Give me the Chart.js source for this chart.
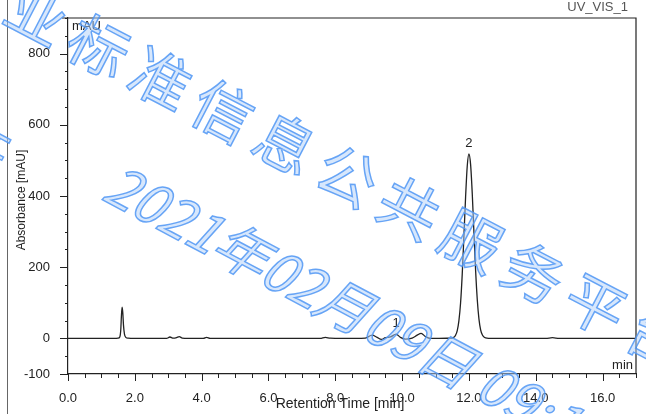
<!DOCTYPE html>
<html lang="en">
<head>
    <meta charset="UTF-8">
    <title>UV_VIS_1</title>
    <style>
        body { margin: 0; background: #fff; font-family: Arial, "Liberation Sans", sans-serif; }
        .wrap { position: relative; width: 646px; height: 414px; overflow: hidden; }
        .edge { position: absolute; left: 7px; top: 0; width: 1px; height: 414px; background: #666; }
        .wm { position: absolute; white-space: nowrap; transform-origin: 0 0; pointer-events: none;
              font-family: "Noto Sans CJK SC", sans-serif; font-weight: 400;
              color: rgba(175,208,250,0.5); -webkit-text-stroke: 1.5px rgba(80,150,245,0.85); }
    </style>
    <script src="https://cdn.jsdelivr.net/npm/chart.js"></script>
</head>
<body>
<div class="wrap">
    <canvas id="chart" width="646" height="414"></canvas>
    <div class="edge"></div>
    <div class="wm" style="left:-30px; top:-74px; font-size:60px; letter-spacing:10px; transform:rotate(27.5deg);">企业标准信息公共服务平台</div>
    <div class="wm" style="left:130px; top:142px; font-size:55px; font-style:italic; transform:rotate(28deg);">2021年02月09日 09:14</div>
    <div class="wm" style="left:-22px; top:100px; font-size:52px; transform:rotate(28deg);">开</div>
</div>
<script>
    // retention time (min) / absorbance (mAU)
    const times = [0.0, 0.5, 1.0, 1.4, 1.5, 1.55, 1.58, 1.6, 1.62, 1.64, 1.66, 1.69, 1.73, 1.8, 2.0, 2.5,
        2.95, 3.05, 3.15, 3.25, 3.33, 3.42, 3.6, 4.05, 4.15, 4.25, 5.0, 6.0, 7.0, 7.55, 7.7, 7.85, 8.2, 8.6,
        8.9, 9.1, 9.25, 9.38, 9.5, 9.65, 9.82, 9.95, 10.1, 10.3, 10.45, 10.57, 10.7, 10.85, 11.1, 11.4,
        11.5, 11.55, 11.6, 11.65, 11.7, 11.75, 11.8, 11.85, 11.9, 11.95, 12.0, 12.05, 12.1, 12.15, 12.2,
        12.25, 12.3, 12.35, 12.4, 12.45, 12.5, 12.6, 12.8, 13.5, 14.3, 14.5, 14.7, 15.5, 16.5, 17.0];
    const absorbance = [0, 0, 0, 0, 0.5, 4, 25, 65, 88, 72, 38, 12, 3, 0.5, 0, 0,
        0, 4, 0.5, 2, 5, 1, 0, 0, 3, 0, 0, 0, 0, 0, 3, 0.5, 0, 0,
        1, 9, 3, -3, 2, 4, 12, 3, -2, 1, 9, 14, 5, 0, 0, 0.5,
        1, 3, 9, 22, 50, 100, 182, 288, 398, 485, 518, 488, 405, 296, 190,
        108, 54, 24, 10, 4, 1.5, 0.3, 0, 0, 0, 2, 0, 0, 0, 0];

    const peakTimes = [9.82, 12.0];
    const peakHeights = [12, 518];
    const peakNames = ['1', '2'];

    const xTicks = [0, 2, 4, 6, 8, 10, 12, 14, 16];
    const yTicks = [-100, 0, 200, 400, 600, 800];

    const ink = '#222';

    const decor = {
        id: 'decor',
        afterDraw(chart) {
            const { ctx, chartArea: a, scales: { x, y } } = chart;
            ctx.save();
            ctx.strokeStyle = ink;
            ctx.lineWidth = 1.2;
            // frame top + right
            ctx.beginPath();
            ctx.moveTo(a.left - 6, a.top); ctx.lineTo(a.right, a.top); ctx.lineTo(a.right, a.bottom);
            ctx.stroke();
            // y ticks
            ctx.lineWidth = 1;
            for (let v = -100; v <= 900; v += 50) {
                const py = Math.round(y.getPixelForValue(v)) + 0.5;
                const len = yTicks.includes(v) ? 8 : 3;
                ctx.beginPath(); ctx.moveTo(a.left - len, py); ctx.lineTo(a.left, py); ctx.stroke();
            }
            // x ticks
            for (let v = 0; v <= 17; v += 0.5) {
                const px = Math.round(x.getPixelForValue(v)) + 0.5;
                const len = xTicks.includes(v) ? 7 : 4;
                ctx.beginPath(); ctx.moveTo(px, a.bottom); ctx.lineTo(px, a.bottom + len); ctx.stroke();
            }
            // texts
            ctx.fillStyle = ink;
            ctx.font = '13px Arial, "Liberation Sans"';
            ctx.textBaseline = 'top';
            ctx.textAlign = 'left';
            ctx.fillText('mAU', a.left + 4, a.top + 2);
            ctx.textAlign = 'right';
            ctx.textBaseline = 'bottom';
            ctx.fillText('min', a.right - 3, a.bottom - 2);
            ctx.fillStyle = '#555';
            ctx.fillText('UV_VIS_1', 628, 14);
            ctx.fillStyle = ink;
            ctx.textAlign = 'center';
            ctx.font = '14px Arial, "Liberation Sans"';
            ctx.fillText('Retention Time [min]', 340, 411);
            ctx.save();
            ctx.translate(22, 200);
            ctx.rotate(-Math.PI / 2);
            ctx.font = '12px Arial, "Liberation Sans"';
            ctx.textBaseline = 'middle';
            ctx.fillText('Absorbance [mAU]', 0, 0);
            ctx.restore();
            // peak labels
            ctx.font = '13px Arial, "Liberation Sans"';
            ctx.textBaseline = 'bottom';
            peakTimes.forEach((t, i) => {
                ctx.fillText(peakNames[i], x.getPixelForValue(t), y.getPixelForValue(peakHeights[i]) - 4);
            });
            ctx.restore();
        }
    };

    new Chart(document.getElementById('chart'), {
        type: 'line',
        data: {
            datasets: [{
                data: times.map((t, i) => ({ x: t, y: absorbance[i] })),
                borderColor: ink,
                borderWidth: 1.3,
                pointRadius: 0,
                cubicInterpolationMode: 'monotone',
                fill: false
            }]
        },
        options: {
            responsive: false,
            animation: false,
            layout: { padding: { top: 18, right: 10, left: 0, bottom: 0 } },
            plugins: { legend: { display: false }, tooltip: { enabled: false } },
            scales: {
                x: {
                    type: 'linear', min: 0, max: 17,
                    grid: { display: false },
                    border: { display: true, color: ink, width: 1.2 },
                    afterBuildTicks: s => { s.ticks = xTicks.map(v => ({ value: v })); },
                    afterFit: s => { s.height = 40; },
                    ticks: { color: ink, padding: 9, maxRotation: 0, font: { size: 13, family: 'Arial, "Liberation Sans"' },
                        callback: v => v.toFixed(1) }
                },
                y: {
                    min: -100, max: 900,
                    grid: { display: false },
                    border: { display: true, color: ink, width: 1.2 },
                    afterBuildTicks: s => { s.ticks = yTicks.map(v => ({ value: v })); },
                    afterFit: s => { s.width = 68; },
                    ticks: { color: ink, padding: 10, font: { size: 13, family: 'Arial, "Liberation Sans"' } }
                }
            }
        },
        plugins: [decor]
    });
</script>
</body>
</html>
